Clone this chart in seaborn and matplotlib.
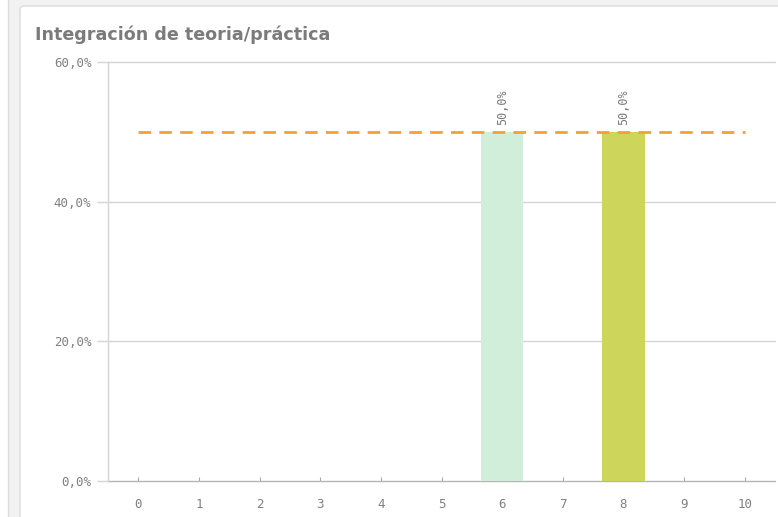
import matplotlib
matplotlib.use("Agg")
import matplotlib.pyplot as plt
import seaborn as sns
import pandas as pd
from matplotlib.patches import FancyBboxPatch, Rectangle

categories = [str(i) for i in range(11)]
values = [0, 0, 0, 0, 0, 0, 50.0, 0, 50.0, 0, 0]
bar_colors = ["#d1eedb"] * 6 + ["#d1eedb", "#d1eedb", "#cdd65b", "#d1eedb", "#d1eedb"]
ref_value = 50.0
yticks = [0, 20, 40, 60]
ytick_labels = ["0,0%", "20,0%", "40,0%", "60,0%"]
title = "Integración de teoria/práctica"

df = pd.DataFrame({"cat": categories, "val": values})

sns.set_theme(style="white")
plt.rcParams['font.family'] = ['DejaVu Sans', 'Noto Sans']

W, H = 778, 517
fig = plt.figure(figsize=(W / 100, H / 100), dpi=100)
fig.patch.set_facecolor("#f2f2f2")

# left neighbouring card and main card
fig.patches.append(Rectangle((-0.01, -0.01), 8 / W + 0.01, 1.02, transform=fig.transFigure,
                             facecolor="white", edgecolor="#dcdcdc", lw=1, zorder=-2))
fig.patches.append(FancyBboxPatch((20 / W, -0.05), (W - 20) / W + 0.05, 1 - 6 / H + 0.05,
                                  boxstyle="round,pad=0,rounding_size=0.006",
                                  transform=fig.transFigure, facecolor="white",
                                  edgecolor="#dcdcdc", lw=1, zorder=-2))

fig.text(35 / W, 1 - 35 / H, title, fontsize=12.6, fontweight="bold", color="#7b7b7b",
         va="center", ha="left")

ax = fig.add_axes([108 / W, 1 - 481 / H, (775 - 108) / W, (481 - 62) / H])
ax.set_facecolor("white")
ax.patch.set_alpha(0)

palette = {c: col for c, col in zip(categories, bar_colors)}
sns.barplot(data=df, x="cat", y="val", hue="cat", palette=palette, order=categories,
            width=0.7, legend=False, ax=ax, zorder=3, saturation=1, linewidth=0,
            edgecolor="none")

ax.set_xlim(-0.5, 10.5)
ax.set_ylim(0, 60)
ax.set_yticks(yticks)
ax.set_yticklabels(ytick_labels)
ax.set_xlabel("")
ax.set_ylabel("")

for y in yticks:
    ax.axhline(y, color="#d4d4d4" if y else "#b5b5b5", lw=1, zorder=1, clip_on=False)

ax.plot([0, 10], [ref_value, ref_value], color="#f7a032", lw=2, ls=(0, (4.5, 3)), zorder=4)

for i, v in enumerate(values):
    if v > 0:
        ax.text(i, v + 1, f"{v:.1f}%".replace(".", ","), rotation=90, ha="center", va="bottom",
                fontsize=8.5, color="#777777", family="DejaVu Sans Mono", zorder=5)

for s in ["top", "right", "bottom"]:
    ax.spines[s].set_visible(False)
ax.spines["left"].set_color("#d4d4d4")
ax.spines["left"].set_linewidth(1)

ax.tick_params(axis="y", length=8, width=1, color="#d4d4d4", pad=4, labelsize=9,
               labelcolor="#808080", left=True)
ax.tick_params(axis="x", direction="in", length=3, width=0.8, color="#aaaaaa", pad=12,
               labelsize=9, labelcolor="#808080", bottom=True)
for lab in ax.get_xticklabels() + ax.get_yticklabels():
    lab.set_family("DejaVu Sans Mono")

fig.savefig("out.png", dpi=100, facecolor=fig.get_facecolor())
